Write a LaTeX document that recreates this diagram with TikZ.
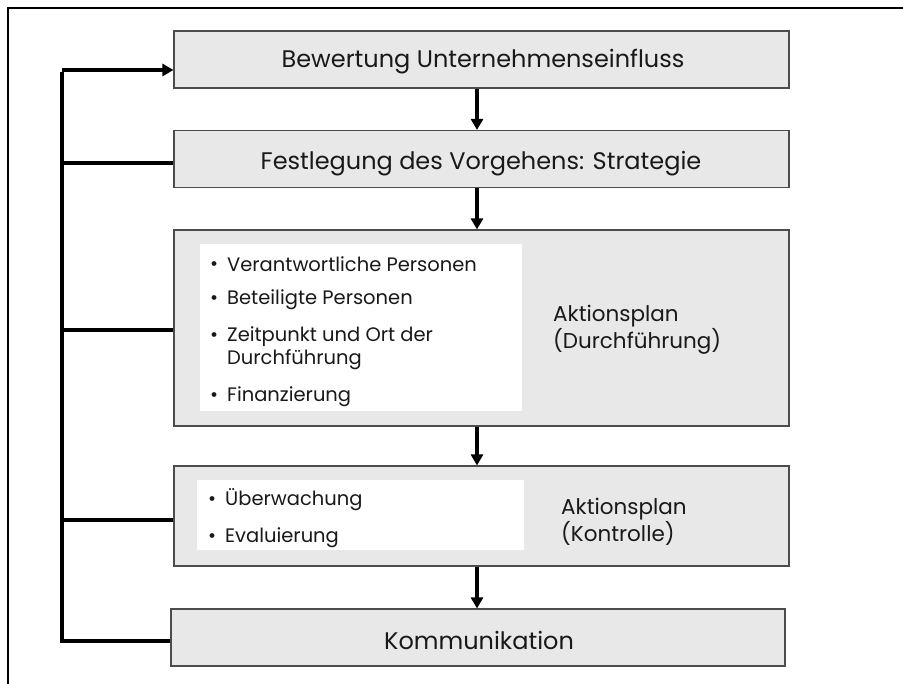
\documentclass[tikz,border=0pt]{standalone}
\usepackage{fontspec}
\setmainfont{Poppins}
\usetikzlibrary{arrows.meta}
\newcommand{\bul}{\llap{\raisebox{0.5pt}{•}\hspace{9pt}}}
\begin{document}
\begin{tikzpicture}[x=1pt,y=-1pt,
  stage/.style={draw=black!70, line width=1.1pt, fill=black!9, inner sep=0pt},
  inner/.style={fill=white, draw=none, inner sep=0pt},
  title/.style={font=\fontsize{24}{28}\selectfont, text=black!90, inner sep=0pt},
  item/.style={font=\fontsize{19.5}{23}\selectfont, text=black!90, anchor=west, inner sep=0pt},
  label/.style={font=\fontsize{21.5}{27}\selectfont, text=black!90, anchor=west, align=left, inner sep=0pt},
  flow/.style={line width=3.6pt, -{Triangle[length=11pt,width=12pt]}},
  loop/.style={line width=3.6pt}
]
\useasboundingbox (0,0) rectangle (903,684);
% frame lines
\draw[line width=1.2pt] (8,684) -- (8,8) -- (903,8);

% stages
\node[stage, minimum width=615pt, minimum height=57pt] (s1) at (481.5,59.5) {};
\node[stage, minimum width=615pt, minimum height=57pt] (s2) at (481.5,159) {};
\node[stage, minimum width=615pt, minimum height=196pt] (s3) at (481.5,328) {};
\node[stage, minimum width=615pt, minimum height=100pt] (s4) at (481.5,516) {};
\node[stage, minimum width=614pt, minimum height=57pt] (s5) at (478,637.5) {};

\node[title] (t1) at (483,62) {Bewertung Unternehmenseinfluss};
\node[title] (t2) at (481,164) {Festlegung des Vorgehens: Strategie};
\node[title] (t5) at (479,640) {Kommunikation};

% white lists
\node[inner, minimum width=322pt, minimum height=167pt] (w3) at (361,327.5) {};
\node[inner, minimum width=327pt, minimum height=70pt] (w4) at (360.5,515) {};

\node[item] (b1) at (227,264) {\bul Verantwortliche Personen};
\node[item] (b2) at (227,300) {\bul Beteiligte Personen};
\node[item] (b3) at (227,337) {\bul Zeitpunkt und Ort der};
\node[item] (b3b) at (227,360) {Durchführung};
\node[item] (b4) at (227,397) {\bul Finanzierung};

\node[item] (c1) at (225,500) {\bul Überwachung};
\node[item] (c2) at (225,538) {\bul Evaluierung};

\node[label] (l3) at (553,330) {Aktionsplan\\(Durchführung)};
\node[label] (l4) at (561,522) {Aktionsplan\\(Kontrolle)};

% downward flow
\coordinate (a1) at (477,88);
\draw[flow] (s1.south -| a1) -- (s2.north -| a1);
\draw[flow] (s2.south -| a1) -- (s3.north -| a1);
\draw[flow] (s3.south -| a1) -- (s4.north -| a1);
\draw[flow] (s4.south -| a1) -- (s5.north -| a1);

% feedback loop on the left
\coordinate (top) at (62,70);
\coordinate (bot) at (62,641);
\draw[loop] ([yshift=-1.8pt]top) -- ([yshift=1.8pt]bot);
\draw[flow] (top) -- (top -| s1.west);
\draw[loop] (62,163) -- (s2.west |- 0,163);
\draw[loop] (62,330) -- (s3.west |- 0,330);
\draw[loop] (62,520) -- (s4.west |- 0,520);
\draw[loop] ([xshift=-1.8pt]bot) -- (s5.west |- bot);
\end{tikzpicture}
\end{document}
